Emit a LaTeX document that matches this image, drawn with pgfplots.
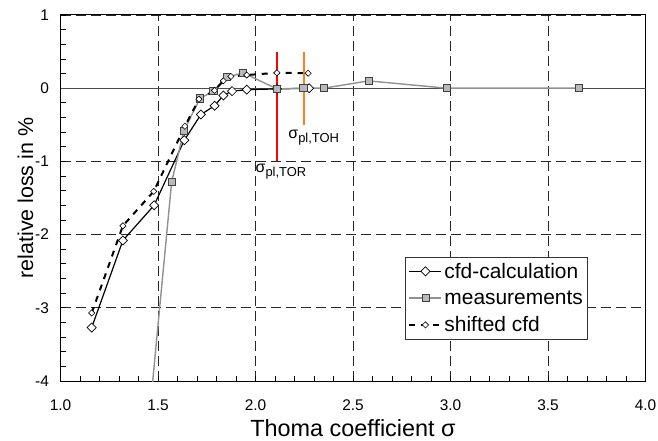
\documentclass[border=0pt]{standalone}
\usepackage{fontspec}
\setmainfont{Liberation Sans}
\usepackage{pgfplots}
\pgfplotsset{compat=1.18}
\definecolor{meas}{RGB}{145,145,145}
\definecolor{measfill}{RGB}{185,185,185}
\definecolor{oran}{RGB}{255,125,30}
\begin{document}
\begin{tikzpicture}
\begin{axis}[
  scale only axis, width=585bp, height=366bp,
  xmin=1, xmax=4, ymin=-4, ymax=1,
  xtick={1,1.5,2,2.5,3,3.5,4}, minor x tick num=4,
  ytick={-4,-3,-2,-1,0,1}, minor y tick num=4,
  tick align=inside, xtick pos=bottom, ytick pos=left,
  major tick length=5bp, minor tick length=5bp,
  tick style={line width=0.8bp, black},
  xmajorgrids, ymajorgrids,
  major grid style={dash pattern=on 10bp off 5bp, line width=0.8bp, black!85},
  axis line style={line width=1bp},
  /pgf/number format/assume math mode=true,
  xticklabel style={/pgf/number format/fixed, /pgf/number format/fixed zerofill, /pgf/number format/precision=1, yshift=-15bp},
  tick label style={font=\fontsize{15.5}{17}\selectfont},
  yticklabel style={xshift=-8bp},
  xlabel={Thoma coefficient σ}, ylabel={relative loss in \%},
  xlabel style={font=\fontsize{23.5}{26}\selectfont, at={(axis description cs:0.5,0)}, anchor=base, yshift=-55bp},
  ylabel style={font=\fontsize{21.5}{24}\selectfont, at={(axis description cs:0,0.5)}, anchor=center, yshift=35bp},
  legend style={at={(rel axis cs:0.589,0.340)}, anchor=north west,
    font=\fontsize{21}{24}\selectfont, draw=black!80, line width=0.8bp,
    inner xsep=3bp, inner ysep=4bp, row sep=7bp, cells={anchor=west}},
  legend image code/.code={\draw[mark repeat=2,mark phase=2,#1] plot coordinates {(0bp,0bp)(16bp,0bp)(32bp,0bp)};},
]
\addplot[forget plot, black!70, line width=0.7bp] coordinates {(1,0) (4,0)};
\addplot[black, line width=1.2bp, mark=square*, mark size=3.2bp,
  mark options={fill=white, draw=black, line width=0.7bp, rotate=45, solid}]
  coordinates {(1.16,-3.27) (1.32,-2.08) (1.48,-1.60) (1.635,-0.71) (1.72,-0.36)
  (1.79,-0.24) (1.835,-0.10) (1.88,-0.04) (1.955,-0.02) (2.11,-0.01) (2.275,0)};
\addlegendentry{cfd-calculation}
\addplot[meas, line width=1.4bp, mark=square*, mark size=3.6bp,
  mark options={fill=measfill, draw=black!75, line width=0.7bp}]
  coordinates {(1.45,-4.64) (1.57,-1.28) (1.633,-0.58) (1.715,-0.14) (1.784,-0.04)
  (1.852,0.15) (1.937,0.21) (2.11,-0.01) (2.245,0) (2.35,0) (2.58,0.10) (2.98,0) (3.66,0)};
\addlegendentry{measurements}
\addplot[black, line width=2bp, dash pattern=on 6bp off 6bp, mark=square*, mark size=2.2bp,
  mark options={fill=white, draw=black, line width=0.6bp, rotate=45, solid}]
  coordinates {(1.16,-3.07) (1.32,-1.88) (1.478,-1.41) (1.638,-0.52) (1.71,-0.15)
  (1.79,-0.03) (1.835,0.10) (1.874,0.16) (1.955,0.18) (2.11,0.21) (2.27,0.205)};
\addlegendentry{shifted cfd}
\addplot[forget plot, red, line width=1.6bp] coordinates {(2.11,0.5) (2.11,-1)};
\addplot[forget plot, oran, line width=1.6bp] coordinates {(2.25,0.5) (2.25,-0.5)};
\node[anchor=north west, inner sep=0pt, font=\fontsize{16}{18}\selectfont] at (axis cs:2.0,-1.04)
  {σ\raisebox{-4bp}{\fontsize{13}{15}\selectfont pl,TOR}};
\node[anchor=north west, inner sep=0pt, font=\fontsize{16}{18}\selectfont] at (axis cs:2.168,-0.57)
  {σ\raisebox{-4bp}{\fontsize{13}{15}\selectfont pl,TOH}};
\end{axis}
\pgfresetboundingbox
\path[use as bounding box] (-60.5bp,-60bp) rectangle (597.5bp,381bp);
\end{tikzpicture}
\end{document}
